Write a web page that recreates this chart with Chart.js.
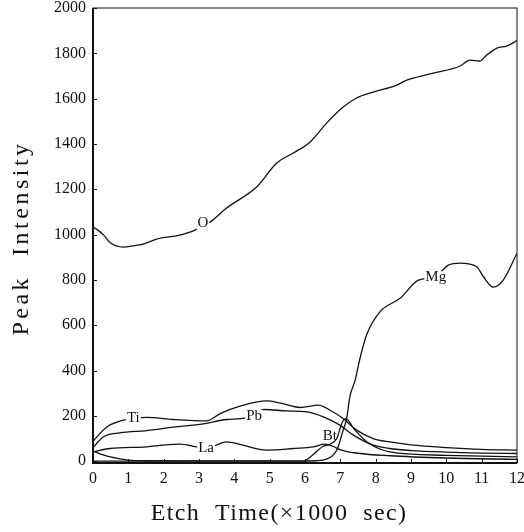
<!DOCTYPE html>
<html>
<head>
<meta charset="utf-8">
<script src="https://cdn.jsdelivr.net/npm/chart.js@4/dist/chart.umd.min.js"></script>
<style>
  html, body { margin: 0; padding: 0; background: #fff; }
  #wrap { width: 524px; height: 532px; }
</style>
</head>
<body>
<div id="wrap"><canvas id="chart" width="524" height="532"></canvas></div>
<script>
// etch time (x1000 sec) and peak intensity for each element
const oTime = [0, 0.29, 0.48, 0.86, 1.14, 1.42, 1.8, 2.46, 2.89, 3.11, 3.31, 3.78, 4.63, 5.2, 5.67, 6.14, 6.61, 7.08, 7.46, 7.93, 8.6, 8.88, 9.54, 10.39, 10.67, 10.95, 11.14, 11.43, 11.71, 12];
const oPeak = [1035, 1000, 965, 945, 950, 958, 980, 998, 1020, 1040, 1055, 1117, 1210, 1316, 1360, 1408, 1492, 1563, 1603, 1629, 1660, 1682, 1709, 1744, 1770, 1766, 1792, 1823, 1832, 1856];

const tiTime = [0, 0.39, 0.86, 1.14, 1.52, 2.27, 3.22, 3.6, 4.16, 4.92, 5.29, 5.86, 6.38, 6.71, 7.08, 7.46, 7.93, 8.4, 9, 10, 11, 12];
const tiPeak = [88, 151, 181, 188, 193, 184, 178, 210, 243, 266, 257, 237, 247, 225, 188, 137, 100, 85, 72, 60, 52, 49];

const pbTime = [0, 0.29, 0.76, 1.52, 2.27, 3.12, 3.78, 4.3, 4.85, 5.48, 6.05, 6.52, 6.99, 7.37, 7.93, 8.4, 9, 10, 11, 12];
const pbPeak = [60, 107, 125, 135, 150, 165, 184, 190, 228, 222, 218, 196, 159, 115, 71, 56, 47, 40, 36, 34];

const laTime = [0, 0.48, 1.52, 1.99, 2.46, 2.93, 3.22, 3.6, 3.78, 4.16, 4.92, 5.67, 6.24, 6.55, 6.8, 7.0, 7.5, 8.4, 10, 12];
const laPeak = [41, 56, 63, 71, 75, 63, 58, 78, 85, 74, 49, 56, 63, 75, 65, 50, 35, 24, 14, 8];

const btTime = [0, 0.4, 1, 1.5, 3, 5, 5.95, 6.2, 6.5, 6.7, 6.9, 7.05, 7.15, 7.4, 7.8, 8.4, 10, 12];
const btPeak = [45, 22, 5, 2, 1, 1, 0, 25, 65, 75, 100, 170, 188, 140, 80, 41, 26, 19];

const mgTime = [0, 5.9, 6.3, 6.61, 6.9, 7.08, 7.18, 7.27, 7.42, 7.55, 7.75, 8.12, 8.69, 9.21, 9.68, 10.06, 10.39, 10.86, 11.05, 11.33, 11.61, 12];
const mgPeak = [0, 0, 2, 9, 49, 137, 190, 284, 358, 450, 560, 659, 719, 799, 814, 865, 874, 858, 814, 768, 799, 918];

const xTicks = [0, 1, 2, 3, 4, 5, 6, 7, 8, 9, 10, 11, 12];
const yTicks = [0, 200, 400, 600, 800, 1000, 1200, 1400, 1600, 1800, 2000];

// curve labels: [text, time, intensity]
const curveLabels = [
  ['O', 3.11, 1050],
  ['Ti', 1.14, 190],
  ['Pb', 4.56, 200],
  ['La', 3.2, 58],
  ['Bt', 6.7, 110],
  ['Mg', 9.7, 812],
];

const SERIF = '"Liberation Serif", "DejaVu Serif", serif';
const INK = '#111';

function toPoints(xs, ys) {
  return xs.map((x, i) => ({ x: x, y: ys[i] }));
}

function series(name, xs, ys) {
  return {
    label: name,
    data: toPoints(xs, ys),
    borderColor: INK,
    borderWidth: 1.3,
    pointRadius: 0,
    fill: false,
    cubicInterpolationMode: 'monotone',
  };
}

// frame, inward tick marks, curve labels and axis titles
const decorations = {
  id: 'decorations',
  afterDatasetsDraw(chart) {
    const ctx = chart.ctx;
    const area = chart.chartArea;
    const xs = chart.scales.x;
    const ys = chart.scales.y;
    ctx.save();

    ctx.strokeStyle = INK;
    ctx.lineWidth = 1;
    ctx.strokeRect(area.left, area.top, area.right - area.left, area.bottom - area.top);
    ctx.lineWidth = 2;
    ctx.beginPath();
    ctx.moveTo(area.left, area.top);
    ctx.lineTo(area.left, area.bottom);
    ctx.lineTo(area.right, area.bottom);
    ctx.stroke();

    ctx.lineWidth = 1;
    ctx.beginPath();
    yTicks.forEach(v => {
      const py = Math.round(ys.getPixelForValue(v)) + 0.5;
      ctx.moveTo(area.left, py);
      ctx.lineTo(area.left + 4, py);
    });
    xTicks.forEach(v => {
      const px = Math.round(xs.getPixelForValue(v)) + 0.5;
      ctx.moveTo(px, area.bottom);
      ctx.lineTo(px, area.bottom - 4);
    });
    ctx.stroke();

    ctx.font = '15px ' + SERIF;
    ctx.textAlign = 'center';
    ctx.textBaseline = 'middle';
    curveLabels.forEach(([text, t, v]) => {
      const px = xs.getPixelForValue(t);
      const py = ys.getPixelForValue(v);
      const w = ctx.measureText(text).width;
      if (text !== 'Bt') {
        ctx.fillStyle = '#fff';
        ctx.fillRect(px - w / 2 - 1, py - 6, w + 2, 12);
      }
      ctx.fillStyle = INK;
      ctx.fillText(text, px, py);
    });

    ctx.fillStyle = INK;
    ctx.font = '24px ' + SERIF;
    ctx.letterSpacing = '1.4px';
    ctx.fillText('Etch  Time(\u00d71000  sec)', 279, 514);
    ctx.letterSpacing = '3.5px';
    ctx.translate(22, 238);
    ctx.rotate(-Math.PI / 2);
    ctx.fillText('Peak  Intensity', 0, 0);
    ctx.restore();
  }
};

new Chart(document.getElementById('chart'), {
  type: 'line',
  data: {
    datasets: [
      series('O', oTime, oPeak),
      series('Ti', tiTime, tiPeak),
      series('Pb', pbTime, pbPeak),
      series('La', laTime, laPeak),
      series('Bt', btTime, btPeak),
      series('Mg', mgTime, mgPeak),
    ],
  },
  options: {
    responsive: false,
    animation: false,
    layout: { padding: { top: 8, left: 0, right: 7, bottom: 0 } },
    plugins: {
      legend: { display: false },
      tooltip: { enabled: false },
    },
    scales: {
      x: {
        type: 'linear',
        min: 0,
        max: 12,
        afterBuildTicks: scale => { scale.ticks = xTicks.map(v => ({ value: v })); },
        afterFit: scale => { scale.height = 69; scale.paddingLeft = 0; scale.paddingRight = 0; },
        grid: { display: false, drawTicks: false },
        border: { display: false },
        ticks: { color: INK, padding: 6, maxRotation: 0, font: { family: SERIF, size: 16 },
                 callback: v => String(v) },
      },
      y: {
        type: 'linear',
        min: -8,
        max: 2000,
        afterBuildTicks: scale => { scale.ticks = yTicks.map(v => ({ value: v })); },
        afterFit: scale => { scale.width = 93; scale.paddingTop = 0; scale.paddingBottom = 0; },
        grid: { display: false, drawTicks: false },
        border: { display: false },
        ticks: { color: INK, padding: 7, font: { family: SERIF, size: 16 },
                 callback: v => String(v) },
      },
    },
  },
  plugins: [decorations],
});
</script>
</body>
</html>
